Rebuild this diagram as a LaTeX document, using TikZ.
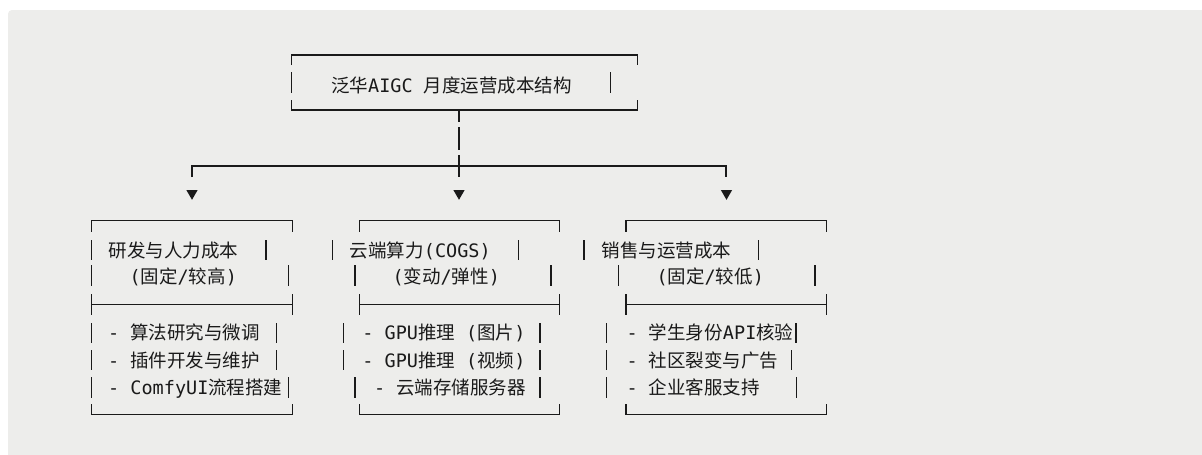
\documentclass[tikz,border=0pt]{standalone}
\usepackage{fontspec}
\setmonofont{DejaVu Sans Mono}
\newfontfamily\cjk{Noto Sans CJK SC}
\usetikzlibrary{shapes.geometric}
\definecolor{bg}{HTML}{EDEDEB}
\definecolor{ink}{HTML}{1A1A1A}
\newcommand\C[1]{{\cjk #1}}
\tikzset{
  ln/.style={draw=ink, line width=1.5pt},
  txt/.style={anchor=base west, inner sep=0pt, text=ink, font=\ttfamily\fontsize{18.5}{22}\selectfont},
  tri/.style={regular polygon, regular polygon sides=3, shape border rotate=180, fill=ink, minimum size=13pt, inner sep=0pt},
}
\newcommand\myframe[2]{%
  \draw[ln] (#1,231.7) -- (#1,220.7) -- (#2,220.7) -- (#2,231.7);
  \draw[ln] (#1,294) -- (#1,315);
  \draw[ln] (#2,294) -- (#2,315);
  \draw[ln] (#1,304.3) -- (#2,304.3);
  \draw[ln] (#1,404) -- (#1,414.3) -- (#2,414.3) -- (#2,404);
}
\newcommand\mybar[3]{\draw[ln] (#1,#2) -- (#1,#3);}
\begin{document}
\begin{tikzpicture}[x=1pt,y=-1pt]
\useasboundingbox (0,0) rectangle (1202,455);
\clip (0,0) rectangle (1202,455);
\fill[white] (0,0) rectangle (1202,455);
\fill[bg, rounded corners=4pt] (8,10) rectangle (1215,470);

% ---- top box ----
\draw[ln] (291.7,65) -- (291.7,55) -- (637.7,55) -- (637.7,65);
\mybar{291.7}{72}{93}
\mybar{610.7}{72}{93}
\draw[ln] (291.7,100) -- (291.7,110) -- (637.7,110) -- (637.7,100);
\node[txt] (title) at (331,92) {\C{泛华}AIGC \C{月度运营成本结构}};

% ---- connectors ----
\coordinate (tb) at (459,110);
\coordinate (s1) at (459,122);
\coordinate (s2a) at (459,127);
\coordinate (s2b) at (459,150);
\coordinate (s3a) at (459,155);
\coordinate (s3b) at (459,177);
\coordinate (bl) at (192,166);
\coordinate (br) at (726,166);
\coordinate (blt) at (192,177);
\coordinate (brt) at (726,177);
\draw[ln] (tb) -- (s1);
\draw[ln] (s2a) -- (s2b);
\draw[ln] (s3a) -- (s3b);
\draw[ln] (blt) -- (bl) -- (br) -- (brt);
\node[tri] (a1) at (192,193.3) {};
\node[tri] (a2) at (459,193.3) {};
\node[tri] (a3) at (726.5,193.3) {};

% ---- left box ----
\myframe{91.7}{292.3}
\mybar{91.7}{240}{260} \mybar{266}{240}{260}
\mybar{91.7}{265}{286} \mybar{288.3}{265}{286}
\mybar{91.7}{323}{343} \mybar{276.7}{323}{343}
\mybar{91.7}{350}{370} \mybar{276.7}{350}{370}
\mybar{91.7}{377}{398} \mybar{288.3}{377}{398}
\node[txt] (l1) at (108.3,257) {\C{研发与人力成本}};
\node[txt] (l2) at (129.3,283) {(\C{固定}/\C{较高})};
\node[txt] (l3) at (108,339.5) {- \C{算法研究与微调}};
\node[txt] (l4) at (108,367) {- \C{插件开发与维护}};
\node[txt] (l5) at (108,394.5) {- ComfyUI\C{流程搭建}};

% ---- middle box ----
\myframe{359.3}{559.3}
\mybar{332.7}{240}{260} \mybar{518.3}{240}{260}
\mybar{355}{265}{286} \mybar{551}{265}{286}
\mybar{343.3}{323}{343} \mybar{540}{323}{343}
\mybar{343.3}{350}{370} \mybar{540}{350}{370}
\mybar{355}{377}{398} \mybar{540}{377}{398}
\node[txt] (m1) at (349.7,257) {\C{云端算力}(COGS)};
\node[txt] (m2) at (392.3,283) {(\C{变动}/\C{弹性})};
\node[txt] (m3) at (362.2,339.5) {- GPU\C{推理} (\C{图片})};
\node[txt] (m4) at (362.2,367) {- GPU\C{推理} (\C{视频})};
\node[txt] (m5) at (373.9,394.5) {- \C{云端存储服务器}};

% ---- right box ----
\myframe{626}{826.7}
\mybar{584}{240}{260} \mybar{758.3}{240}{260}
\mybar{618.3}{265}{286} \mybar{815}{265}{286}
\mybar{606.7}{323}{343} \mybar{796}{323}{343}
\mybar{606.7}{350}{370} \mybar{791.7}{350}{370}
\mybar{606.7}{377}{398} \mybar{796.7}{377}{398}
\node[txt] (r1) at (601.3,257) {\C{销售与运营成本}};
\node[txt] (r2) at (656.3,283) {(\C{固定}/\C{较低})};
\node[txt] (r3) at (626.5,339.5) {- \C{学生身份}API\C{核验}};
\node[txt] (r4) at (626.5,367) {- \C{社区裂变与广告}};
\node[txt] (r5) at (626.5,394.5) {- \C{企业客服支持}};
\end{tikzpicture}
\end{document}
